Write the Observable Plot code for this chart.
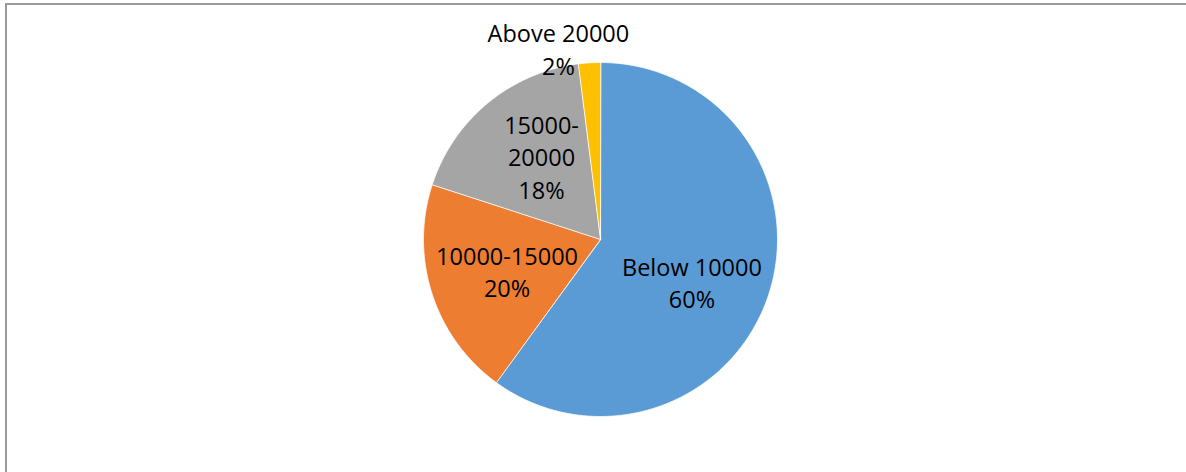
<!DOCTYPE html>
<html>
<head>
<meta charset="utf-8">
<script src="https://cdn.jsdelivr.net/npm/d3@7"></script>
<script src="https://cdn.jsdelivr.net/npm/@observablehq/plot@0.6"></script>
<style>
  html, body { margin: 0; padding: 0; background: #fff; }
  #wrap { position: relative; width: 1186px; height: 472px; overflow: hidden; }
  #frame {
    position: absolute; left: 5px; top: 3px; right: -4px; bottom: -4px;
    border-top: 2px solid #9a9a9a; border-left: 2px solid #9a9a9a;
  }
  #chart { position: absolute; left: 0; top: 0; }
</style>
</head>
<body>
<div id="wrap"><div id="frame"></div><div id="chart"></div></div>
<script>
// Income bands and their shares (%)
const categories = ["Below 10000", "10000-15000", "15000-20000", "Above 20000"];
const shares = [60, 20, 18, 2];
const sliceColors = ["#5B9BD5", "#ED7D31", "#A5A5A5", "#FFC000"];

// Label placement: distance from centre (in pie radii) and angular nudge
// (degrees) away from each slice's mid-angle; a few names wrap at the hyphen.
const labelRadius = [0.569, 0.556, 0.578, 1.108];
const labelNudge = [6.8, -0.3, 4.4, -8.8];
const labelWrap = [false, false, true, false];

const W = 1186, H = 472;
const R = 177;               // pie radius in pixels
const CX = 600, CY = 239;    // pie centre in pixels

const total = d3.sum(shares);
const rows = categories.map((name, i) => ({name, value: shares[i], i}));
const arcs = d3.pie().sort(null).value(d => d.value).startAngle(0)(rows);

// Slice outlines in pie units (radius 1, y up), angles clockwise from 12 o'clock
const outline = [];
for (const a of arcs) {
  const n = Math.max(2, Math.ceil((a.endAngle - a.startAngle) / (Math.PI / 360)));
  outline.push({name: a.data.name, x: 0, y: 0});
  for (let k = 0; k <= n; ++k) {
    const t = a.startAngle + (a.endAngle - a.startAngle) * k / n;
    outline.push({name: a.data.name, x: Math.sin(t), y: Math.cos(t)});
  }
}

const labels = arcs.map((a, i) => {
  const mid = (a.startAngle + a.endAngle) / 2 + labelNudge[i] * Math.PI / 180;
  const pct = Math.round(a.data.value / total * 100) + "%";
  const name = labelWrap[i] ? a.data.name.replace("-", "-\n") : a.data.name;
  return {
    x: labelRadius[i] * Math.sin(mid),
    y: labelRadius[i] * Math.cos(mid),
    text: name + "\n" + pct
  };
});

const chart = Plot.plot({
  width: W,
  height: H,
  margin: 0,
  x: {domain: [-CX / R, (W - CX) / R], axis: null},
  y: {domain: [-(H - CY) / R, CY / R], axis: null},
  color: {type: "ordinal", domain: categories, range: sliceColors},
  style: {fontFamily: "'Open Sans', sans-serif", background: "transparent"},
  marks: [
    Plot.line(outline, {
      x: "x", y: "y", z: "name", fill: "name",
      stroke: "white", strokeWidth: 0.8, curve: "linear-closed"
    }),
    Plot.text(labels, {
      x: "x", y: "y", text: "text",
      fontSize: 23.5, lineHeight: 1.38, fill: "#000",
      fontFamily: "'Open Sans', sans-serif"
    })
  ]
});

document.getElementById("chart").appendChild(chart);
</script>
</body>
</html>
